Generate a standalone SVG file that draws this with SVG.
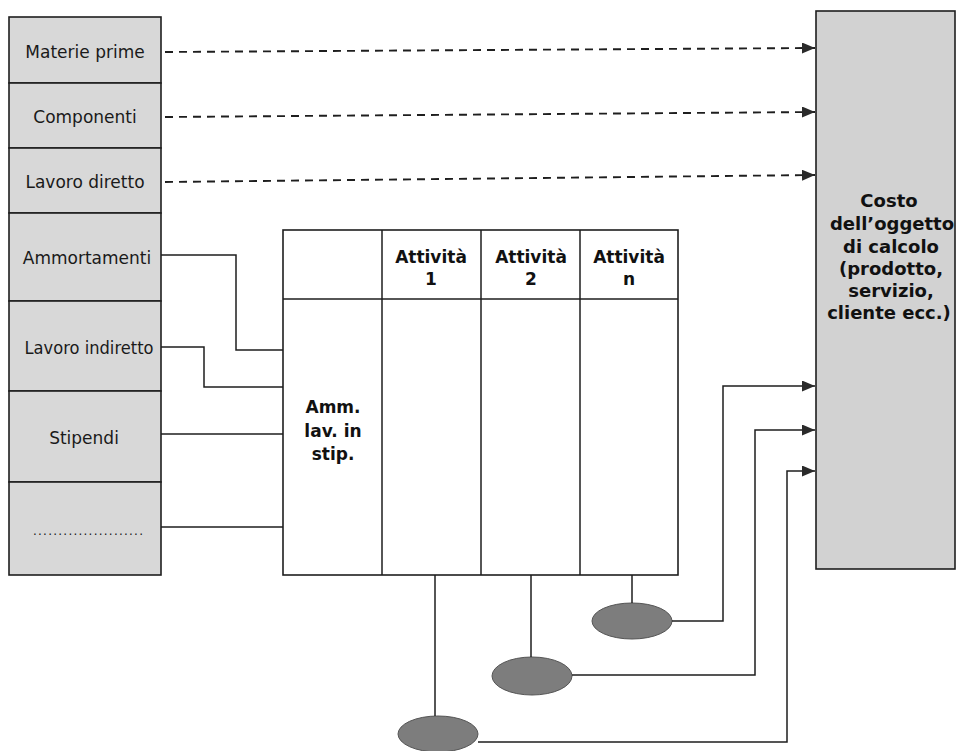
<svg xmlns="http://www.w3.org/2000/svg" width="958" height="751" viewBox="0 0 958 751">
<style>
.cell{fill:#d8d8d8;stroke:#1e1e1e;stroke-width:1.6}
.big{fill:#d2d2d2;stroke:#1e1e1e;stroke-width:1.6}
.tbl{fill:#ffffff;stroke:#1e1e1e;stroke-width:1.6}
.ell{fill:#7d7d7d;stroke:#555555;stroke-width:1}
.lbl{font-family:"DejaVu Sans","Liberation Sans",sans-serif;font-size:17px;fill:#1a1a1a;text-anchor:middle}
.bold{font-family:"DejaVu Sans","Liberation Sans",sans-serif;font-weight:bold;font-size:17px;fill:#111;text-anchor:middle}
.bigt{font-family:"DejaVu Sans","Liberation Sans",sans-serif;font-weight:bold;font-size:18px;fill:#111;text-anchor:middle}
.con{fill:none;stroke:#1e1e1e;stroke-width:1.5}
.dash{stroke-dasharray:8 6;stroke-width:1.9}
</style>
<defs>
<marker id="arr" markerUnits="userSpaceOnUse" markerWidth="14" markerHeight="12" refX="13" refY="5.5" orient="auto">
<path d="M0,0 L13,5.5 L0,11 z" fill="#2a2a2a"/>
</marker>
</defs>
<rect width="958" height="751" fill="#ffffff"/>

<g id="materie-prime"><rect class="cell" x="9" y="17" width="152" height="66"/><text class="lbl" x="85" y="58">Materie prime</text></g>
<g id="componenti"><rect class="cell" x="9" y="83" width="152" height="65"/><text class="lbl" x="85" y="123">Componenti</text></g>
<g id="lavoro-diretto"><rect class="cell" x="9" y="148" width="152" height="65"/><text class="lbl" x="85" y="188">Lavoro diretto</text></g>
<g id="ammortamenti"><rect class="cell" x="9" y="213" width="152" height="88"/><text class="lbl" x="87" y="264">Ammortamenti</text></g>
<g id="lavoro-indiretto"><rect class="cell" x="9" y="301" width="152" height="90"/><text class="lbl" x="89" y="354" textLength="129" lengthAdjust="spacingAndGlyphs">Lavoro indiretto</text></g>
<g id="stipendi"><rect class="cell" x="9" y="391" width="152" height="91"/><text class="lbl" x="84" y="444">Stipendi</text></g>
<g id="altro"><rect class="cell" x="9" y="482" width="152" height="93"/><text class="lbl" x="88" y="535" style="font-size:12px" textLength="110" lengthAdjust="spacing">......................</text></g>

<g id="tabella">
<rect class="tbl" x="283" y="230" width="395" height="345"/>
<line class="con" x1="283" y1="299" x2="678" y2="299"/>
<line class="con" x1="382" y1="230" x2="382" y2="575"/>
<line class="con" x1="481" y1="230" x2="481" y2="575"/>
<line class="con" x1="580" y1="230" x2="580" y2="575"/>
<text class="bold" x="431" y="263">Attività</text><text class="bold" x="431" y="285">1</text>
<text class="bold" x="531" y="263">Attività</text><text class="bold" x="531" y="285">2</text>
<text class="bold" x="629" y="263">Attività</text><text class="bold" x="629" y="285">n</text>
<text class="bold" x="333" y="413">Amm.</text>
<text class="bold" x="333" y="437">lav. in</text>
<text class="bold" x="333" y="460">stip.</text>
</g>

<g id="costo-oggetto">
<rect class="big" x="816" y="11" width="139" height="558"/>
<text class="bigt" x="889" y="207">Costo</text>
<text class="bigt" x="892" y="230">dell’oggetto</text>
<text class="bigt" x="891" y="253">di calcolo</text>
<text class="bigt" x="891" y="275">(prodotto,</text>
<text class="bigt" x="891" y="297">servizio,</text>
<text class="bigt" x="889" y="319">cliente ecc.)</text>
</g>

<g id="driver-n"><ellipse class="ell" cx="632" cy="621" rx="40" ry="18"/></g>
<g id="driver-2"><ellipse class="ell" cx="532" cy="676" rx="40" ry="19"/></g>
<g id="driver-1"><ellipse class="ell" cx="438" cy="734" rx="40" ry="18"/></g>

<g id="connettori">
<line class="con dash" x1="165" y1="52" x2="815" y2="48" marker-end="url(#arr)"/>
<line class="con dash" x1="165" y1="117" x2="815" y2="112" marker-end="url(#arr)"/>
<line class="con dash" x1="165" y1="182" x2="815" y2="175" marker-end="url(#arr)"/>
<polyline class="con" points="161,255 236,255 236,350 283,350"/>
<polyline class="con" points="161,347 204,347 204,387 283,387"/>
<polyline class="con" points="161,434 283,434"/>
<polyline class="con" points="161,527 283,527"/>
<line class="con" x1="435" y1="575" x2="435" y2="716"/>
<line class="con" x1="531" y1="575" x2="531" y2="657"/>
<line class="con" x1="632" y1="575" x2="632" y2="603"/>
<polyline class="con" points="672,621 723,621 723,386 815,386" marker-end="url(#arr)"/>
<polyline class="con" points="572,675 755,675 755,430 815,430" marker-end="url(#arr)"/>
<polyline class="con" points="478,742 787,742 787,471 815,471" marker-end="url(#arr)"/>
</g>
</svg>
